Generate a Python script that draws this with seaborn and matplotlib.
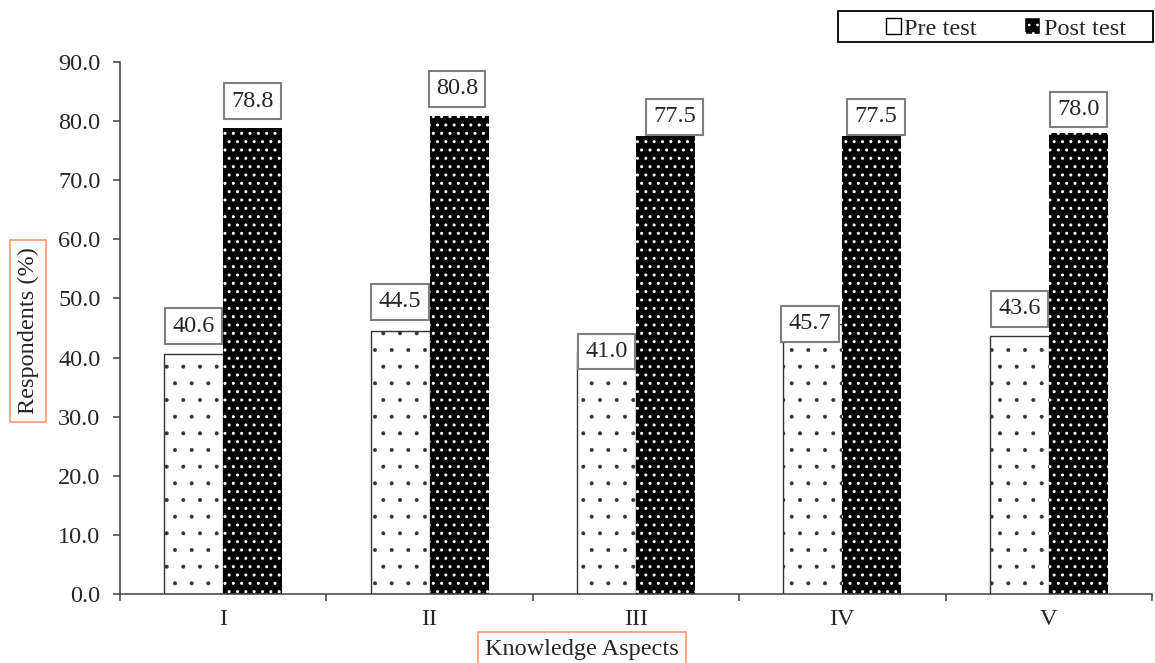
import numpy as np
import pandas as pd
import matplotlib
matplotlib.use("Agg")
import matplotlib.pyplot as plt
import seaborn as sns
from matplotlib.patches import Patch, Rectangle

aspects = ["I", "II", "III", "IV", "V"]
pre_test = [40.6, 44.5, 41.0, 45.7, 43.6]
post_test = [78.8, 80.8, 77.5, 77.5, 78.0]
series_names = ["Pre test", "Post test"]

# label box offsets (pixels) relative to bar top centre
pre_offsets = [(0, 28), (0, 29), (0, 0), (-3, 0), (0, 27.5)]
post_offsets = [(0, 27), (-2, 27.5), (9, 19), (4, 19), (0, 23.5)]

sns.set_theme(style="white")
plt.rcParams["font.family"] = ["Liberation Serif", "DejaVu Serif"]
plt.rcParams["hatch.linewidth"] = 0.7

df = pd.DataFrame({
    "Aspect": aspects * 2,
    "Value": pre_test + post_test,
    "Test": [series_names[0]] * 5 + [series_names[1]] * 5,
})

W, H = 1155, 663
fig = plt.figure(figsize=(W / 100, H / 100), dpi=100)
ax = fig.add_axes([120 / W, 69 / H, 1032 / W, 532 / H])

sns.barplot(data=df, x="Aspect", y="Value", hue="Test", order=aspects,
            hue_order=series_names, palette=["white", "black"], saturation=1,
            width=0.572, ax=ax, legend=False, errorbar=None)

for bar in ax.containers[0]:
    bar.set_facecolor("white")
    bar.set_edgecolor("#333333")
    bar.set_linewidth(1.0)
    bar.set_hatch(".")
    if hasattr(bar, "set_hatch_linewidth"):
        bar.set_hatch_linewidth(0.4)
for bar in ax.containers[1]:
    bar.set_facecolor("black")
    bar.set_edgecolor("white")
    bar.set_linewidth(0)
    bar.set_hatch("..")
    if hasattr(bar, "set_hatch_linewidth"):
        bar.set_hatch_linewidth(1.0)

box = dict(boxstyle="square,pad=0.3", facecolor="white", edgecolor="#7f7f7f", linewidth=1.5)
for cont, vals, offs in [(ax.containers[0], pre_test, pre_offsets),
                         (ax.containers[1], post_test, post_offsets)]:
    for bar, v, (dx, dy) in zip(cont, vals, offs):
        ax.annotate(f"{v:.1f}", (bar.get_x() + bar.get_width() / 2, v),
                    xytext=(dx * 0.72, dy * 0.72), textcoords="offset points",
                    ha="center", va="center", fontsize=17.5, bbox=box, zorder=5)

ax.set_xlim(-0.5, 4.5)
ax.set_ylim(0, 90)
ax.set_yticks(np.arange(0, 91, 10))
ax.set_yticklabels([f"{v:.1f}" for v in np.arange(0, 91, 10)])
ax.set_xticks(range(len(aspects)))
ax.set_xticklabels(aspects)
ax.set_xticks(np.arange(-0.5, 5, 1), minor=True)
ax.tick_params(axis="y", direction="out", length=5, width=1.1, color="#404040",
               pad=9, labelsize=17.5, left=True)
ax.tick_params(axis="x", which="major", length=0, pad=11, labelsize=17.5)
ax.tick_params(axis="x", which="minor", direction="out", length=5, width=1.1,
               color="#404040", bottom=True)
ax.set_xlabel("")
ax.set_ylabel("")
ax.grid(False)
for s in ["top", "right"]:
    ax.spines[s].set_visible(False)
for s in ["left", "bottom"]:
    ax.spines[s].set_color("#404040")
    ax.spines[s].set_linewidth(1.1)

handles = [Patch(facecolor="white", edgecolor="black", linewidth=1.0, label="Pre test"),
           Patch(facecolor="black", edgecolor="white", linewidth=0.3, hatch="..", label="Post test")]
fig.legend(handles=handles, loc="center left", bbox_to_anchor=(886 / W, 1 - 29 / H),
           ncol=2, frameon=False, fontsize=17.5, handlelength=0.6, handleheight=0.6,
           handletextpad=0.15, columnspacing=2.0, borderpad=0, borderaxespad=0)
fig.add_artist(Rectangle((838 / W, 1 - 42 / H), 315 / W, 31 / H, transform=fig.transFigure,
                         fill=False, edgecolor="black", linewidth=1.3))

lab_box = dict(boxstyle="square,pad=0.3", facecolor="white", edgecolor="#F4A07A", linewidth=1.3)
fig.text(28 / W, 1 - 331 / H, "Respondents (%)", rotation=90, ha="center", va="center",
         fontsize=17.5, bbox=lab_box)
fig.text(582 / W, 1 - 650 / H, "Knowledge Aspects", ha="center", va="center",
         fontsize=17.5, bbox=lab_box)

fig.savefig("out.png", dpi=100)
